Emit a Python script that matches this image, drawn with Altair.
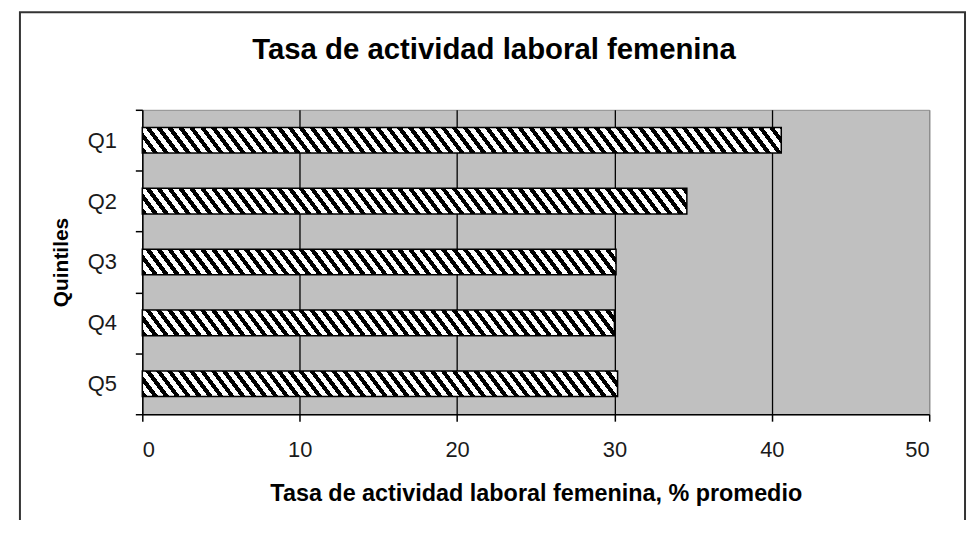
import altair as alt
import pandas as pd
import numpy as np

# ---- data ----
quintiles = ["Q1", "Q2", "Q3", "Q4", "Q5"]
tasa = [40.6, 34.6, 30.1, 30.0, 30.2]
x_ticks = [0, 10, 20, 30, 40, 50]
title_text = "Tasa de actividad laboral femenina"

df = pd.DataFrame({"q": quintiles, "v": tasa})

# ---- layout (styles) ----
PW, PH = 791, 306
X_MAX = 50
BAR_BAND = 0.42
FONT = "Liberation Sans"


def hatch(value, period=11.0, frac=0.47, k=0.75):
    """Diagonal '\\' hatch as a bounding-box linear gradient for a bar."""
    W = value / X_MAX * PW
    H = BAR_BAND * PH / len(quintiles)
    L = W + k * H
    den = W * W + (k * H) ** 2
    a = W * L / den
    b = -k * H * L / den
    stops = []
    i = 0
    while i * period < L:
        s0 = i * period / L
        s1 = min((i + frac) * period / L, 1.0)
        s2 = min((i + 1) * period / L, 1.0)
        stops += [
            {"offset": s0, "color": "black"},
            {"offset": s1, "color": "black"},
            {"offset": s1, "color": "white"},
            {"offset": s2, "color": "white"},
        ]
        i += 1
    return {"gradient": "linear", "x1": 0, "y1": 1, "x2": a, "y2": 1 + b, "stops": stops}


x_enc = alt.X(
    "v:Q",
    scale=alt.Scale(domain=[0, X_MAX], nice=False, zero=True),
    axis=alt.Axis(
        values=x_ticks,
        title="Tasa de actividad laboral femenina, % promedio",
        titleFont=FONT, titleFontSize=23.5, titleFontWeight="bold", titleColor="black",
        titleX=PW / 2, titleY=80, titleBaseline="middle", titleAlign="center",
        labelFont=FONT, labelFontSize=22, labelColor="#1a1a1a", labelPadding=19,
        domainColor="black", domainWidth=1.5,
        tickColor="black", tickWidth=1.5, tickSize=7,
        grid=True, gridWidth=1.3,
        gridColor={"condition": {"test": "datum.value === 0 || datum.value === 50", "value": "#8c8c8c"},
                   "value": "black"},
    ),
)
y_enc = alt.Y(
    "q:N",
    sort=quintiles,
    scale=alt.Scale(domain=quintiles, paddingInner=0, paddingOuter=0),
    axis=alt.Axis(
        title="Quintiles",
        titleFont=FONT, titleFontSize=21, titleFontWeight="bold", titleColor="black",
        titleX=-81, titleY=PH / 2, titleAngle=270, titleAlign="center", titleBaseline="middle",
        labelFont=FONT, labelFontSize=22, labelColor="#1a1a1a", labelPadding=19,
        domainColor="black", domainWidth=1.5,
        tickColor="black", tickWidth=1.5, tickSize=7, tickBand="extent",
        grid=False,
    ),
)

base = alt.Chart(df).encode(x=x_enc, y=y_enc)

one = alt.Data(values=[{"t": title_text}])

# chart frame (decoration)
frame = alt.Chart(one).mark_rect(
    fill="transparent", stroke="#333333", strokeWidth=2
).encode(
    x=alt.value(-123), x2=alt.value(827), y=alt.value(-98), y2=alt.value(440)
)

title = alt.Chart(one).mark_text(
    font=FONT, fontSize=29.5, fontWeight="bold", color="black",
    align="center", baseline="alphabetic",
).encode(
    text="t:N", x=alt.value(PW / 2 - 42), y=alt.value(-51)
)

layers = [frame, title]
for q, v in zip(quintiles, tasa):
    layers.append(
        base.transform_filter(alt.datum.q == q).mark_bar(
            height={"band": BAR_BAND}, fill=hatch(v), stroke="black", strokeWidth=1.5
        )
    )

chart = alt.layer(*layers).properties(
    width=PW,
    height=PH,
    autosize=alt.AutoSizeParams(type="none"),
    padding={"left": 135, "top": 101, "right": 40, "bottom": 105},
    background="white",
).configure_view(
    fill="#c0c0c0", stroke="#8c8c8c", strokeWidth=1
)

chart.save("out.html", embed_options={"renderer": "svg", "actions": False})
